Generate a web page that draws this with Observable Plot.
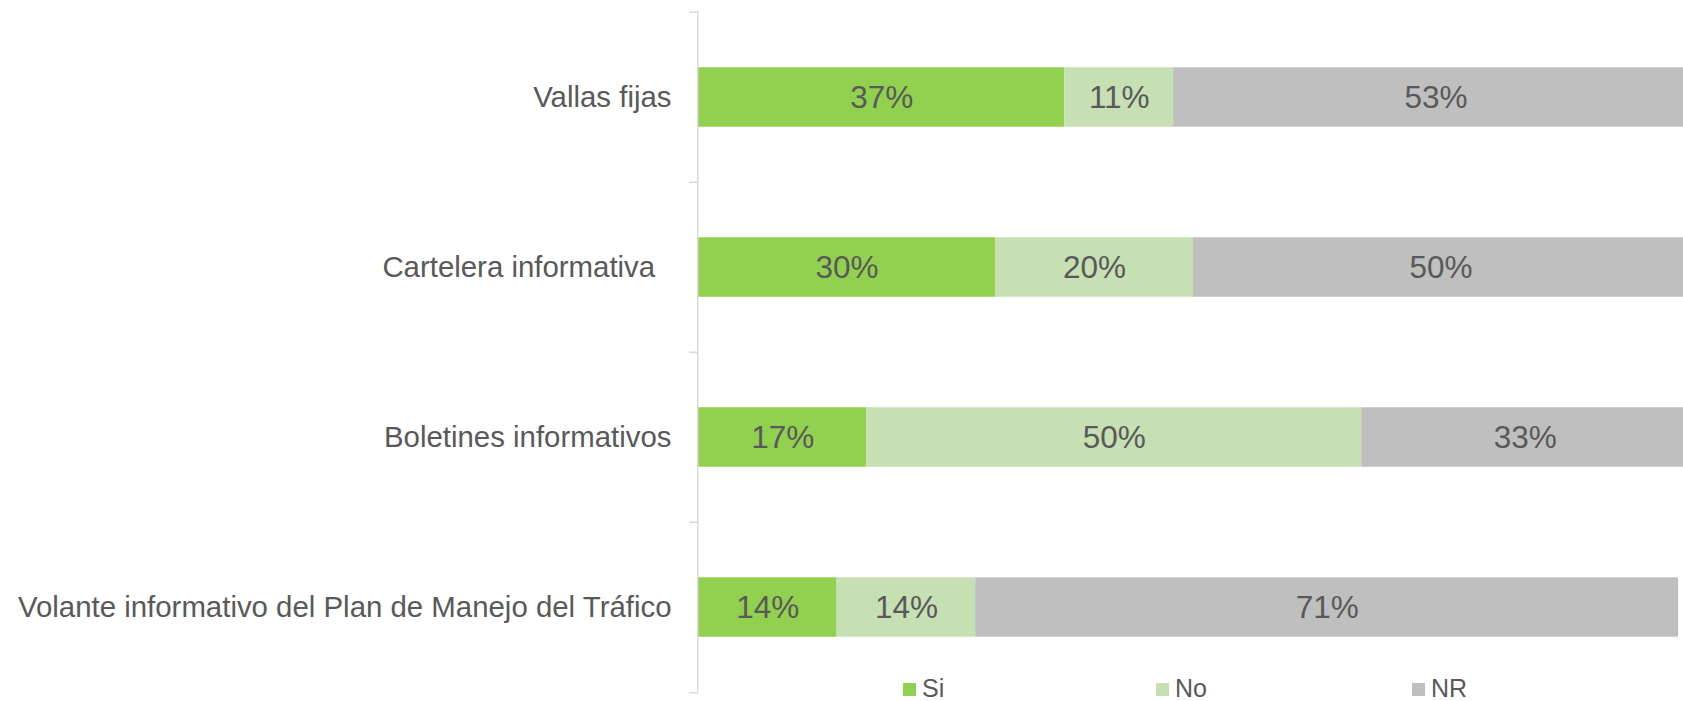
<!DOCTYPE html>
<html>
<head>
<meta charset="utf-8">
<script src="https://cdn.jsdelivr.net/npm/d3@7"></script>
<script src="https://cdn.jsdelivr.net/npm/@observablehq/plot@0.6"></script>
<style>
  html, body { margin: 0; padding: 0; background: #fff; overflow: hidden; }
  #wrap { position: relative; width: 1688px; height: 701px; font-family: "Liberation Sans", Arial, sans-serif; }
  #wrap svg { max-width: none !important; height: 701px !important; display: block; }
  .legend-item { position: absolute; top: 676px; height: 25px; display: flex; align-items: center; font-size: 25px; line-height: 25px; color: #595959; }
  .legend-item .sw { width: 13px; height: 13px; margin-right: 6px; margin-top: 2px; }
</style>
</head>
<body>
<div id="wrap"></div>
<script>
// ---- data ----
const categories = [
  "Vallas fijas",
  "Cartelera informativa  ",
  "Boletines informativos",
  "Volante informativo del Plan de Manejo del Tráfico"
];
const series = ["Si", "No", "NR"];
const siValues = [37, 30, 17, 14];
const noValues = [11, 20, 50, 14];
const nrValues = [53, 50, 33, 71];
const seriesColors = ["#92D050", "#C6E0B4", "#BFBFBF"];

// ---- build table ----
const valuesBySeries = [siValues, noValues, nrValues];
const data = [];
categories.forEach((cat, i) => {
  series.forEach((s, j) => data.push({cat, resp: s, value: valuesBySeries[j][i]}));
});

// ---- layout ----
const W = 1688, H = 701;
const mTop = 10.7, mBottom = 8.3, mLeft = 698;
const step = (H - mTop - mBottom) / categories.length;
const barH = 60;
const inset = (step - barH) / 2;
const textColor = "#595959";
const axisColor = "#D9D9D9";

const chart = Plot.plot({
  width: W,
  height: H,
  marginLeft: mLeft,
  marginRight: 0,
  marginTop: mTop,
  marginBottom: mBottom,
  style: {fontFamily: "'Liberation Sans', Arial, sans-serif", fontSize: "29px", color: textColor, background: "#fff", overflow: "visible", maxWidth: "none"},
  x: {domain: [0, 100], axis: null},
  y: {domain: categories, padding: 0, label: null},
  color: {domain: series, range: seriesColors},
  marks: [
    Plot.barX(data, Plot.stackX({x: "value", y: "cat", fill: "resp", order: series, insetTop: inset, insetBottom: inset})),
    Plot.text(data, Plot.stackX({x: "value", y: "cat", z: "resp", order: series, text: d => d.value + "%", fill: textColor, fontSize: 31.5})),
    Plot.ruleX([0], {stroke: axisColor, strokeWidth: 1.5, dx: -0.75}),
    Plot.axisY({tickSize: 0, tickPadding: 27, fontSize: 29.4, fill: textColor, stroke: "none", label: null,
      tickFormat: d => d.replace(/ +$/, m => "\u00a0".repeat(m.length))}),
    Plot.axisY({tickSize: 9, tickFormat: () => "", stroke: axisColor, strokeWidth: 1.5, dy: -step / 2, label: null}),
    Plot.axisY([categories[categories.length - 1]], {tickSize: 9, tickFormat: () => "", stroke: axisColor, strokeWidth: 1.5, dy: step / 2, label: null})
  ]
});

const wrap = document.getElementById("wrap");
wrap.appendChild(chart);

// ---- legend ----
const legendLefts = [903, 1156, 1412];
series.forEach((s, i) => {
  const item = document.createElement("div");
  item.className = "legend-item";
  item.style.left = legendLefts[i] + "px";
  const sw = document.createElement("span");
  sw.className = "sw";
  sw.style.background = seriesColors[i];
  const label = document.createElement("span");
  label.textContent = s;
  item.appendChild(sw);
  item.appendChild(label);
  wrap.appendChild(item);
});
</script>
</body>
</html>
